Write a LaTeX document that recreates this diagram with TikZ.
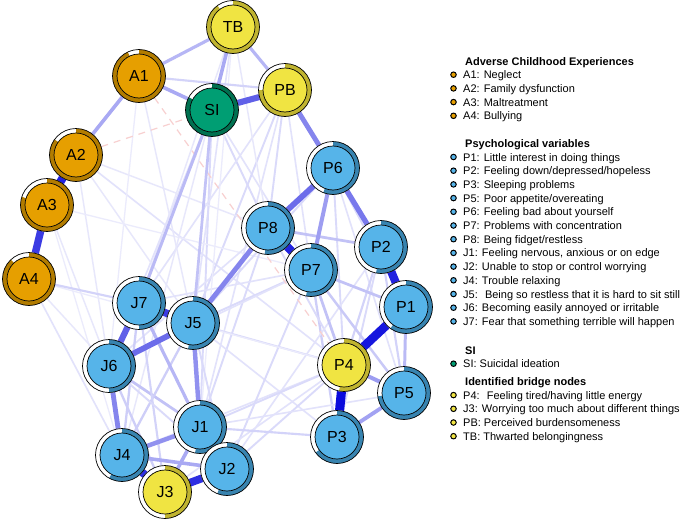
\documentclass[tikz,border=0pt]{standalone}
\usepackage{fontspec}
\setmainfont{Liberation Sans}
\usetikzlibrary{backgrounds}

\definecolor{aceFill}{HTML}{E69F00}
\definecolor{aceRing}{RGB}{178,124,0}
\definecolor{bridgeFill}{HTML}{F0E442}
\definecolor{bridgeRing}{RGB}{192,180,48}
\definecolor{siFill}{HTML}{009E73}
\definecolor{siRing}{RGB}{0,112,80}
\definecolor{psyFill}{HTML}{56B4E9}
\definecolor{psyRing}{RGB}{56,132,176}
\definecolor{edgeblue}{RGB}{10,10,220}
\definecolor{edgered}{RGB}{248,208,208}

\tikzset{
  outer ring/.style={circle, fill=white, minimum size=53pt, inner sep=0pt},
  inner disc/.style={circle, draw, line width=0.7pt, minimum size=44pt, inner sep=0pt,
    font=\fontsize{16}{16}\selectfont},
  legend text/.style={anchor=base west, inner sep=0pt, font=\fontsize{11}{13}\selectfont},
  legend title/.style={anchor=base west, inner sep=0pt, font=\fontsize{11}{13}\selectfont\bfseries},
  bullet/.style={circle, draw, line width=1pt, inner sep=0pt, minimum size=5.5pt},
  negedge/.style={edgered, line width=1.2pt, dash pattern=on 7pt off 6pt}
}

% name, position, fill, ring, predictability, label
\newcommand\netnode[6]{%
  \node[outer ring] (#1) at (#2) {};
  \fill[#4] (#1.center) ++(90:26.5) arc[start angle=90, delta angle=-360*#5, radius=26.5]
    -- ++(90-360*#5:-4.5) arc[start angle=90-360*#5, delta angle=360*#5, radius=22] -- cycle;
  \draw[line width=0.7pt] (#1.center) circle[radius=26.5];
  \node[inner disc, fill=#3] (#1d) at (#1.center) {#6};
}

\begin{document}
\begin{tikzpicture}[x=1pt,y=1pt]
\useasboundingbox (0,0) rectangle (685,-522);
% ACE
\netnode{A1}{139,-76}{aceFill}{aceRing}{0.93}{A1}
\netnode{A2}{76,-155}{aceFill}{aceRing}{0.85}{A2}
\netnode{A3}{47,-205}{aceFill}{aceRing}{0.8}{A3}
\netnode{A4}{29,-279}{aceFill}{aceRing}{0.88}{A4}
% SI and bridge nodes
\netnode{TB}{233,-27}{bridgeFill}{bridgeRing}{0.9}{TB}
\netnode{PB}{285,-90}{bridgeFill}{bridgeRing}{0.75}{PB}
\netnode{SI}{212,-110}{siFill}{siRing}{0.83}{SI}
\netnode{P4}{344,-365}{bridgeFill}{bridgeRing}{0.53}{P4}
\netnode{J3}{165,-492}{bridgeFill}{bridgeRing}{0.5}{J3}
% psychological variables
\netnode{P6}{333,-168}{psyFill}{psyRing}{0.56}{P6}
\netnode{P8}{268,-228}{psyFill}{psyRing}{0.52}{P8}
\netnode{P2}{381,-247}{psyFill}{psyRing}{0.53}{P2}
\netnode{P7}{311,-270}{psyFill}{psyRing}{0.53}{P7}
\netnode{P1}{406,-307}{psyFill}{psyRing}{0.6}{P1}
\netnode{P5}{404,-393}{psyFill}{psyRing}{0.73}{P5}
\netnode{P3}{337,-437}{psyFill}{psyRing}{0.65}{P3}
\netnode{J7}{139,-303}{psyFill}{psyRing}{0.5}{J7}
\netnode{J5}{193,-323}{psyFill}{psyRing}{0.53}{J5}
\netnode{J6}{109,-366}{psyFill}{psyRing}{0.5}{J6}
\netnode{J1}{200,-427}{psyFill}{psyRing}{0.53}{J1}
\netnode{J4}{122,-455}{psyFill}{psyRing}{0.58}{J4}
\netnode{J2}{227,-469}{psyFill}{psyRing}{0.56}{J2}

% edges
\begin{scope}[on background layer]
  \fill[white] (0,0) rectangle (685,-522);
  \foreach \a/\b/\w in {A2/P4/12, TB/J5/12, TB/J7/10, SI/J1/15, SI/J6/12, SI/P8/15,
      SI/P7/12, PB/J5/15, PB/J7/12, PB/P8/15, PB/J1/12, PB/P7/12, A2/J6/10, A2/J5/10,
      A3/J6/10, A3/J4/8, A3/P7/8, A2/P8/10, A1/J5/10, A1/J6/8, P6/J5/15, P6/P1/15,
      P6/P4/15, P6/P5/12, P2/P4/18, P2/P5/18, P2/P3/15, P7/P3/20, P8/P4/15, P8/J1/15,
      P7/J5/15, J5/P4/15, J5/P3/12, J7/P7/12, J6/P7/12, J6/P8/12, J4/P4/12, J2/P4/15,
      J2/P7/15, J2/P2/12, J1/P4/15, J1/P5/12, J3/P4/12, A4/J6/10, A4/P4/8, SI/J4/10,
      TB/P8/10, TB/J1/8, A4/J4/12, A4/J7/18, J1/P3/18, A1/PB/18}
  {
    \pgfmathsetmacro\lw{0.6+0.085*\w}
    \draw[line width=\lw pt, edgeblue!\w!white] (\a) -- (\b);
  }
  \draw[negedge] (A1) -- (P4);
  \draw[negedge] (A2) -- (SI);
  \foreach \a/\b/\w in {J7/J4/20, J6/J1/25, J6/J3/20, J5/J4/20, J7/J3/18, J5/J2/15,
      J6/J2/15, A1/TB/30, A1/A2/35, A1/SI/35, TB/SI/35, TB/PB/30, SI/J7/28, SI/J5/25,
      P8/P2/25, P7/P1/25, P7/P4/25, P7/P5/22, P1/P5/28, P4/P5/40, P3/P5/38, P6/P7/40,
      J1/J2/28, J7/J1/30, J4/J2/35, J1/J3/35, J5/J1/45, J1/J4/45, J6/J4/50, P8/J5/50,
      PB/P6/50, P6/P2/55, P6/P8/60, J5/J6/60, SI/PB/65, J7/J6/65, J7/J5/80, A3/A4/80,
      J4/J3/85, J3/J2/85, A2/A3/90, P8/P7/90, P2/P1/90, P1/P4/95, P4/P3/100}
  {
    \pgfmathsetmacro\lw{0.6+0.085*\w}
    \draw[line width=\lw pt, edgeblue!\w!white] (\a) -- (\b);
  }
\end{scope}

% legend
\node[legend title] (tACE) at (465,-65) {Adverse Childhood Experiences};
\foreach \txt [count=\i] in {{A1: Neglect}, {A2: Family dysfunction},
    {A3: Maltreatment}, {A4: Bullying}}
{
  \pgfmathsetmacro\yb{-65-13.7*\i}
  \node[bullet, fill=aceFill] (bA\i) at (453.5,\yb+4) {};
  \node[legend text] (lA\i) at (463,\yb) {\txt};
}
\node[legend title] (tPSY) at (465,-147.3) {Psychological variables};
\foreach \txt [count=\i] in {{P1: Little interest in doing things},
    {P2: Feeling down/depressed/hopeless}, {P3: Sleeping problems},
    {P5: Poor appetite/overeating}, {P6: Feeling bad about yourself},
    {P7: Problems with concentration}, {P8: Being fidget/restless},
    {J1: Feeling nervous, anxious or on edge}, {J2: Unable to stop or control worrying},
    {J4: Trouble relaxing}, {J5:~ Being so restless that it is hard to sit still},
    {J6: Becoming easily annoyed or irritable},
    {J7: Fear that something terrible will happen}}
{
  \pgfmathsetmacro\yb{-147.3-13.7*\i}
  \node[bullet, fill=psyFill] (bP\i) at (453.5,\yb+4) {};
  \node[legend text] (lP\i) at (463,\yb) {\txt};
}
\node[legend title] (tSI) at (465,-354) {SI};
\node[bullet, fill=siFill] (bS1) at (453.5,-363.7) {};
\node[legend text] (lS1) at (463,-367.7) {SI: Suicidal ideation};
\node[legend title] (tBR) at (465,-385.4) {Identified bridge nodes};
\foreach \txt [count=\i] in {{P4:~ Feeling tired/having little energy},
    {J3: Worrying too much about different things},
    {PB: Perceived burdensomeness}, {TB: Thwarted belongingness}}
{
  \pgfmathsetmacro\yb{-385.4-13.7*\i}
  \node[bullet, fill=bridgeFill] (bB\i) at (453.5,\yb+4) {};
  \node[legend text] (lB\i) at (463,\yb) {\txt};
}
\end{tikzpicture}
\end{document}
